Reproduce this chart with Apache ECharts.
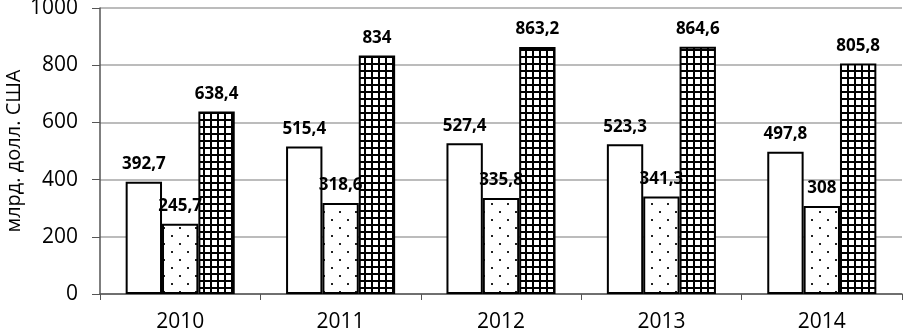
<!DOCTYPE html>
<html>
<head>
<meta charset="utf-8">
<script src="https://cdn.jsdelivr.net/npm/echarts@6/dist/echarts.min.js"></script>
<style>
  html, body { margin: 0; padding: 0; background: #fff; }
  #chart { width: 904px; height: 334px; }
</style>
</head>
<body>
<div id="chart"></div>
<script>
const years = ['2010', '2011', '2012', '2013', '2014'];
const plainValues = [392.7, 515.4, 527.4, 523.3, 497.8];
const dottedValues = [245.7, 318.6, 335.8, 341.3, 308];
const gridValues = [638.4, 834, 863.2, 864.6, 805.8];

// fill patterns drawn on small canvases
function dotPattern() {
  const c = document.createElement('canvas');
  c.width = 16; c.height = 16;
  const ctx = c.getContext('2d');
  ctx.fillStyle = '#fff';
  ctx.fillRect(0, 0, 16, 16);
  ctx.fillStyle = '#222';
  ctx.fillRect(3, 3, 2, 2);
  ctx.fillRect(11, 11, 2, 2);
  return c;
}

function gridPattern() {
  const c = document.createElement('canvas');
  c.width = 7; c.height = 7;
  const ctx = c.getContext('2d');
  ctx.fillStyle = '#fff';
  ctx.fillRect(0, 0, 7, 7);
  ctx.fillStyle = '#000';
  ctx.fillRect(0, 0, 7, 2);
  ctx.fillRect(0, 0, 2, 7);
  return c;
}

const labelStyle = {
  show: true,
  position: 'top',
  distance: 9,
  color: '#000',
  fontWeight: 'bold',
  fontSize: 17,
  fontFamily: 'Open Sans',
  formatter: (p) => String(p.value).replace('.', ',')
};

function makeSeries(values, fill) {
  return {
    type: 'bar',
    data: values,
    barGap: 0,
    barCategoryGap: '32%',
    itemStyle: { color: fill, borderColor: '#000', borderWidth: 2 },
    label: labelStyle
  };
}

const chart = echarts.init(document.getElementById('chart'));

const option = {
  animation: false,
  grid: { left: 100, right: 2, top: 8, bottom: 40, outerBoundsMode: 'none' },
  xAxis: {
    type: 'category',
    data: years,
    axisLine: { lineStyle: { color: '#555', width: 1.5 } },
    axisTick: { show: true, length: 6, lineStyle: { color: '#555' } },
    axisLabel: { color: '#000', fontSize: 21, fontFamily: 'Open Sans', margin: 18 }
  },
  yAxis: {
    type: 'value',
    min: 0,
    max: 1000,
    interval: 200,
    name: 'млрд. долл. США',
    nameLocation: 'middle',
    nameGap: 76,
    nameMoveOverlap: false,
    nameTextStyle: { color: '#000', fontSize: 20, fontFamily: 'Open Sans' },
    axisLine: { show: true, lineStyle: { color: '#555', width: 1.5 } },
    axisTick: { show: true, length: 8, lineStyle: { color: '#555' } },
    axisLabel: {
      color: '#000', fontSize: 21, fontFamily: 'Open Sans', margin: 22,
      formatter: (v) => String(v)
    },
    splitLine: { lineStyle: { color: '#a6a6a6', width: 1.5 } }
  },
  series: [
    makeSeries(plainValues, '#fff'),
    makeSeries(dottedValues, { image: dotPattern(), repeat: 'repeat' }),
    makeSeries(gridValues, { image: gridPattern(), repeat: 'repeat' })
  ]
};

chart.setOption(option);
</script>
</body>
</html>
